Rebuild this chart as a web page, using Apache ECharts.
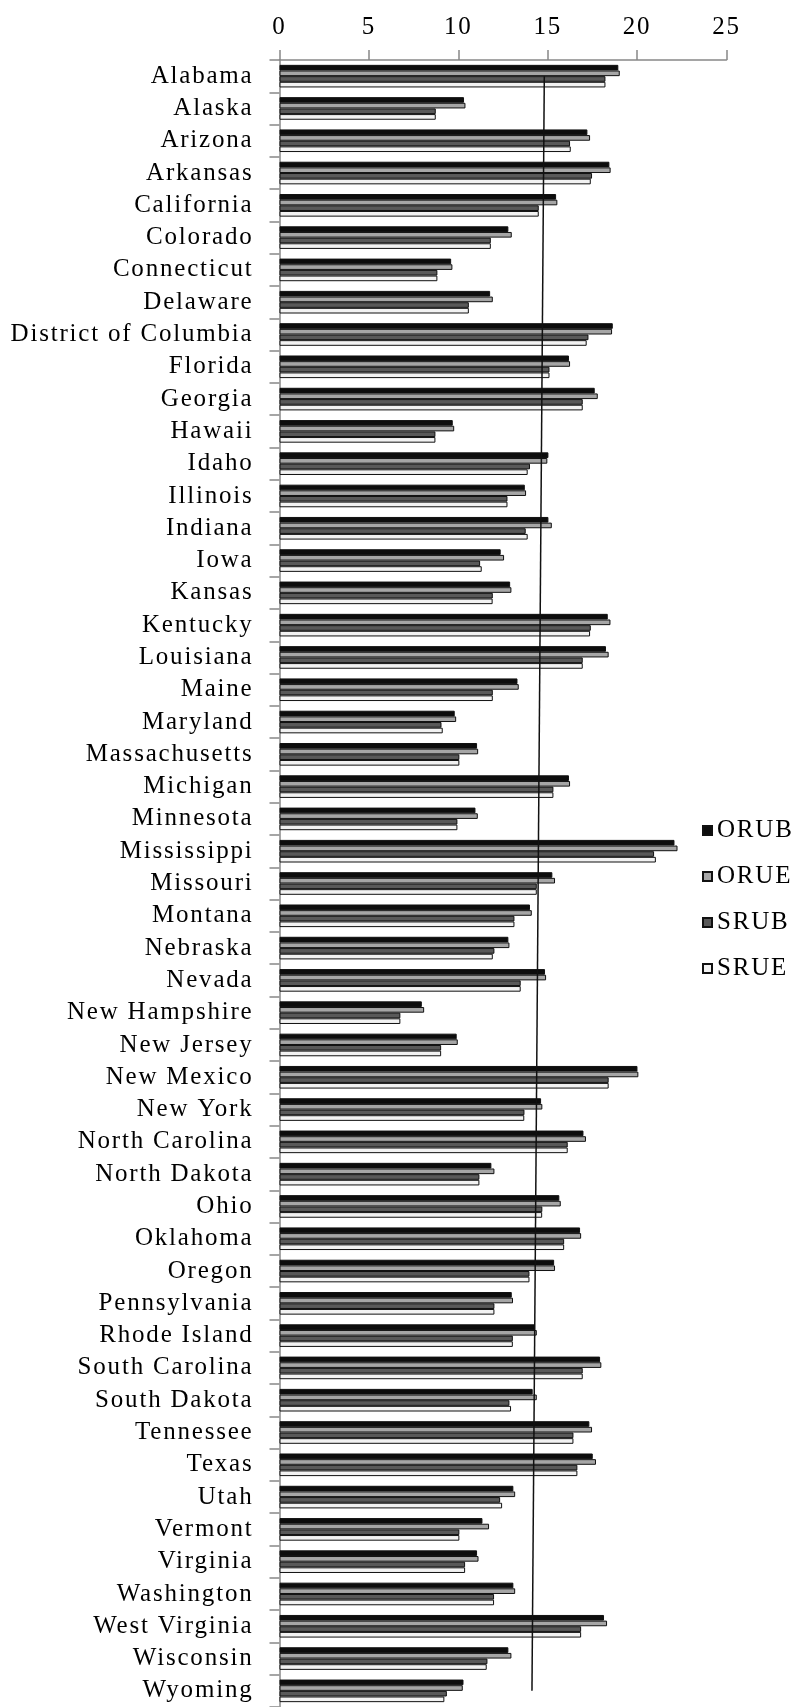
<!DOCTYPE html>
<html>
<head>
<meta charset="utf-8">
<script src="https://cdn.jsdelivr.net/npm/echarts@6/dist/echarts.min.js"></script>
<style>
html,body{margin:0;padding:0;background:#fff;}
#chart{width:805px;height:1707px;}
</style>
</head>
<body>
<div id="chart"></div>
<script>
var categories = ["Alabama","Alaska","Arizona","Arkansas","California","Colorado","Connecticut","Delaware","District of Columbia","Florida","Georgia","Hawaii","Idaho","Illinois","Indiana","Iowa","Kansas","Kentucky","Louisiana","Maine","Maryland","Massachusetts","Michigan","Minnesota","Mississippi","Missouri","Montana","Nebraska","Nevada","New Hampshire","New Jersey","New Mexico","New York","North Carolina","North Dakota","Ohio","Oklahoma","Oregon","Pennsylvania","Rhode Island","South Carolina","South Dakota","Tennessee","Texas","Utah","Vermont","Virginia","Washington","West Virginia","Wisconsin","Wyoming"];

var ORUB = [18.95,10.32,17.22,18.45,15.47,12.80,9.60,11.78,18.64,16.19,17.63,9.69,15.04,13.72,15.04,12.37,12.90,18.36,18.26,13.31,9.80,11.05,16.19,10.96,22.09,15.26,14.01,12.80,14.85,7.96,9.91,20.02,14.63,17.00,11.85,15.65,16.81,15.36,12.99,14.29,17.93,14.16,17.33,17.52,13.08,11.35,11.05,13.08,18.15,12.80,10.29];
var ORUE = [19.03,10.40,17.37,18.52,15.54,12.99,9.67,11.93,18.60,16.25,17.80,9.77,14.98,13.79,15.23,12.56,12.97,18.51,18.41,13.38,9.88,11.11,16.25,11.09,22.26,15.41,14.11,12.86,14.91,8.09,9.97,20.07,14.70,17.14,12.02,15.73,16.87,15.41,13.06,14.39,18.00,14.39,17.48,17.70,13.18,11.72,11.13,13.18,18.32,12.97,10.25];
var SRUB = [18.23,8.74,16.25,17.48,14.50,11.82,8.83,10.59,17.28,15.10,16.96,8.72,14.01,12.75,13.77,11.22,11.93,17.41,16.96,11.93,9.06,10.06,15.32,9.95,20.95,14.39,13.14,12.02,13.49,6.76,9.04,18.41,13.70,16.12,11.18,14.70,15.92,13.98,12.02,13.05,16.96,12.86,16.44,16.66,12.34,10.06,10.38,12.00,16.87,11.63,9.36];
var SRUE = [18.23,8.74,16.29,17.41,14.50,11.82,8.83,10.59,17.18,15.10,16.96,8.72,13.88,12.75,13.88,11.31,11.92,17.37,16.96,11.93,9.13,10.06,15.32,9.95,21.05,14.39,13.14,11.93,13.49,6.76,9.04,18.41,13.69,16.12,11.18,14.69,15.92,13.98,12.02,13.05,16.96,12.95,16.44,16.66,12.45,10.06,10.38,12.00,16.87,11.59,9.22];

var seriesNames = ["ORUB","ORUE","SRUB","SRUE"];
var seriesColors = ["#0d0d0d","#a6a6a6","#595959","#f2f2f2"];
var xTicks = [0,5,10,15,20,25];

// reference line endpoints (value at first and last category)
var refLineValues = [14.81, 14.12];
var refLineCats = ["Alabama","Wyoming"];

// the reference text is slightly letter-spaced
(function(){
  var proto = CanvasRenderingContext2D.prototype;
  var ft = proto.fillText;
  proto.fillText = function(){
    try { this.letterSpacing = '1.8px'; } catch(e) {}
    return ft.apply(this, arguments);
  };
})();

var FONT = "Liberation Serif";
var chart = echarts.init(document.getElementById('chart'), null, {renderer:'canvas'});

var dataArr = [ORUB, ORUE, SRUB, SRUE];
var series = seriesNames.map(function(n, i){
  return {
    name: n, type: 'bar', data: dataArr[i],
    barGap: '0%', barCategoryGap: '30%',
    itemStyle: {color: seriesColors[i], borderColor: '#111', borderWidth: 1},
    animation: false
  };
});
series.push({
  name: 'ref', type: 'line', symbol: 'none',
  data: refLineValues.map(function(v, i){ return [v, refLineCats[i]]; }),
  lineStyle: {color: '#111', width: 1.5},
  z: 5, animation: false
});

chart.setOption({
  animation: false,
  textStyle: {fontFamily: FONT},
  grid: {left: 279.5, top: 60, width: 447, height: 1650, containLabel: false},
  legend: {
    data: seriesNames,
    icon: 'rect',
    orient: 'vertical', left: 702, top: 818, padding: 0,
    itemWidth: 9, itemHeight: 9, itemGap: 21,
    textStyle: {fontFamily: FONT, fontSize: 25, color: '#000'}
  },
  xAxis: {
    type: 'value', position: 'top', min: xTicks[0], max: xTicks[xTicks.length-1], interval: 5,
    splitLine: {show: false},
    axisLine: {show: true, lineStyle: {color: '#888', width: 1.5}},
    axisTick: {show: true, length: 10, lineStyle: {color: '#888', width: 1.5}},
    axisLabel: {fontFamily: FONT, fontSize: 25, color: '#000', margin: 20}
  },
  yAxis: {
    type: 'category', data: categories, inverse: true,
    axisLine: {show: true, lineStyle: {color: '#888', width: 1.5}},
    axisTick: {show: true, length: 10, lineStyle: {color: '#888', width: 1.5}},
    axisLabel: {fontFamily: FONT, fontSize: 25, color: '#000', margin: 26, interval: 0}
  },
  series: series
});
</script>
</body>
</html>
